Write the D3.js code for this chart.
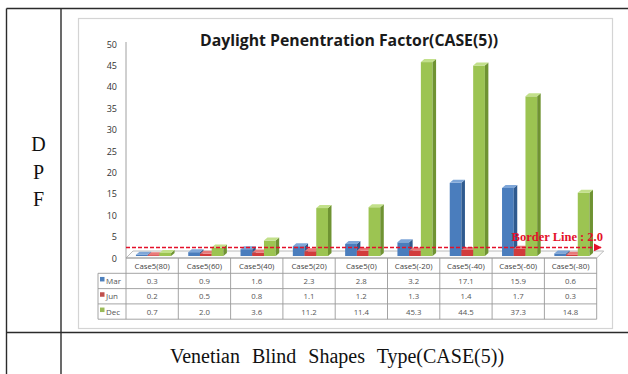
<!DOCTYPE html>
<html>
<head>
<meta charset="utf-8">
<script src="https://cdn.jsdelivr.net/npm/d3@7/dist/d3.min.js"></script>
<style>
  html, body { margin: 0; padding: 0; background: #fff; }
  svg { display: block; }
</style>
</head>
<body>
<svg id="chart" width="628" height="374"></svg>
<script>
// ---- data ----
const categories = ["Case5(80)", "Case5(60)", "Case5(40)", "Case5(20)", "Case5(0)",
                    "Case5(-20)", "Case5(-40)", "Case5(-60)", "Case5(-80)"];
const seriesNames = ["Mar", "Jun", "Dec"];
const marValues = [0.3, 0.9, 1.6, 2.3, 2.8, 3.2, 17.1, 15.9, 0.6];
const junValues = [0.2, 0.5, 0.8, 1.1, 1.2, 1.3, 1.4, 1.7, 0.3];
const decValues = [0.7, 2.0, 3.6, 11.2, 11.4, 45.3, 44.5, 37.3, 14.8];
const yTicks = [0, 5, 10, 15, 20, 25, 30, 35, 40, 45, 50];
const borderValue = 2.0;
const titleText = "Daylight Penentration Factor(CASE(5))";
const borderText = "Border Line : 2.0";
const sideLetters = ["D", "P", "F"];
const footerText = "Venetian Blind Shapes Type(CASE(5))";

const seriesValues = [marValues, junValues, decValues];

// face colours per series: front, side, top
const palette = [
  { front: "#4a7dbd", side: "#2f5a8f", top: "#7ea6d8", key: "#4f81bd" },
  { front: "#d23c3c", side: "#9a2626", top: "#e87a7a", key: "#c0504d" },
  { front: "#9cc452", side: "#6f9332", top: "#c2e08a", key: "#9bbb59" }
];

const svg = d3.select("#chart");

// ---- outer document table ----
const outer = svg.append("g").attr("stroke", "#2b2b2b").attr("stroke-width", 1.4);
outer.append("line").attr("x1", 6.5).attr("x2", 628).attr("y1", 8.5).attr("y2", 8.5);
outer.append("line").attr("x1", 6.5).attr("x2", 6.5).attr("y1", 8.5).attr("y2", 374);
outer.append("line").attr("x1", 61).attr("x2", 61).attr("y1", 8.5).attr("y2", 374);
outer.append("line").attr("x1", 6.5).attr("x2", 628).attr("y1", 332.5).attr("y2", 332.5);

svg.append("g").selectAll("text").data(sideLetters).join("text")
  .attr("x", 38.5)
  .attr("y", (d, i) => 151 + i * 27.5)
  .attr("text-anchor", "middle")
  .attr("font-family", "'Liberation Serif', 'Times New Roman', serif")
  .attr("font-size", 20)
  .attr("fill", "#111")
  .text(d => d);

svg.append("text")
  .attr("x", 337).attr("y", 363)
  .attr("text-anchor", "middle")
  .attr("font-family", "'Liberation Serif', 'Times New Roman', serif")
  .attr("font-size", 20)
  .attr("word-spacing", 7)
  .attr("fill", "#111")
  .text(footerText);

// ---- chart frame ----
svg.append("rect")
  .attr("x", 78.5).attr("y", 18.5).attr("width", 534).attr("height", 310)
  .attr("fill", "#fff").attr("stroke", "#d4d4d4").attr("stroke-width", 1.2);

svg.append("text")
  .attr("x", 349).attr("y", 45.5)
  .attr("text-anchor", "middle")
  .attr("font-family", "'Open Sans', 'Noto Sans', sans-serif")
  .attr("font-weight", "bold")
  .attr("font-size", 15.8)
  .attr("fill", "#1a1a1a")
  .text(titleText);

// ---- scales ----
const x = d3.scaleBand().domain(categories).range([126, 596.7]).padding(0);
const y = d3.scaleLinear().domain([0, 50]).range([256, 42]);
const bw = x.bandwidth();
const barW = bw * 0.224;
const groupOffset = bw * 0.19;
const depthX = 3.5, depthY = 3;   // 3-D extrusion of each column
const floorFront = y(0) + 2;       // front edge of the floor / table top
const floorDX = 7, floorDY = 7;

// ---- floor ----
const floorPts = [
  [x.range()[0], floorFront],
  [x.range()[1], floorFront],
  [x.range()[1] + floorDX, floorFront - floorDY],
  [x.range()[0] + floorDX, floorFront - floorDY]
];
svg.append("polygon")
  .attr("points", floorPts.map(p => p.join(",")).join(" "))
  .attr("fill", "#fbfbfb").attr("stroke", "#a9a9a9").attr("stroke-width", 0.8);

// ---- value axis ----
svg.append("line")
  .attr("x1", 126).attr("x2", 126)
  .attr("y1", y(50)).attr("y2", floorFront)
  .attr("stroke", "#a0a0a0").attr("stroke-width", 1);

const yAxis = d3.axisLeft(y).tickValues(yTicks).tickSize(0).tickPadding(0);
const yAxisG = svg.append("g").attr("transform", "translate(117,2.3)").call(yAxis);
yAxisG.select(".domain").remove();
yAxisG.selectAll("text")
  .attr("font-family", "'Open Sans', 'Noto Sans', sans-serif")
  .attr("font-size", 9)
  .attr("fill", "#333");

// ---- 3-D columns ----
const bars = [];
categories.forEach((c, ci) => {
  seriesValues.forEach((vals, si) => {
    bars.push({ cat: c, si, value: vals[ci] });
  });
});

const barG = svg.append("g");
bars.forEach(b => {
  const x0 = x(b.cat) + groupOffset + b.si * barW;
  const x1 = x0 + barW;
  const yb = y(0);
  const yt = y(b.value);
  const col = palette[b.si];
  const g = barG.append("g");
  g.append("rect")
    .attr("x", x0).attr("y", yt).attr("width", barW).attr("height", yb - yt)
    .attr("fill", col.front);
  g.append("polygon")
    .attr("points", [[x1, yt], [x1 + depthX, yt - depthY], [x1 + depthX, yb - depthY], [x1, yb]]
      .map(p => p.join(",")).join(" "))
    .attr("fill", col.side);
  g.append("polygon")
    .attr("points", [[x0, yt], [x1, yt], [x1 + depthX, yt - depthY], [x0 + depthX, yt - depthY]]
      .map(p => p.join(",")).join(" "))
    .attr("fill", col.top);
});

// ---- border line ----
const defs = svg.append("defs");
defs.append("marker")
  .attr("id", "arrow")
  .attr("viewBox", "0 0 10 10")
  .attr("refX", 9).attr("refY", 5)
  .attr("markerWidth", 5).attr("markerHeight", 5)
  .attr("orient", "auto")
  .append("path").attr("d", "M0,0 L10,5 L0,10 z").attr("fill", "#e4102a");

svg.append("line")
  .attr("x1", 126).attr("x2", 601)
  .attr("y1", y(borderValue)).attr("y2", y(borderValue))
  .attr("stroke", "#e4102a").attr("stroke-width", 1.6)
  .attr("stroke-dasharray", "4,2")
  .attr("marker-end", "url(#arrow)");

svg.append("text")
  .attr("x", 603).attr("y", y(borderValue) - 6)
  .attr("text-anchor", "end")
  .attr("font-family", "'Liberation Serif', 'Times New Roman', serif")
  .attr("font-weight", "bold")
  .attr("font-size", 12.5)
  .attr("fill", "#e4102a")
  .text(borderText);

// ---- data table ----
const rowH = 15.3;
const tableTop = floorFront;
const firstRow = tableTop + rowH;
const legendLeft = 98;
const tableRight = x.range()[1];
const tableBottom = firstRow + rowH * seriesNames.length;
const tbl = svg.append("g").attr("stroke", "#9a9a9a").attr("stroke-width", 0.9);

// vertical lines between categories
const colEdges = categories.map(c => x(c)).concat([tableRight]);
tbl.selectAll("line.v").data(colEdges).join("line")
  .attr("x1", d => d).attr("x2", d => d)
  .attr("y1", tableTop).attr("y2", tableBottom);
// legend column edge
tbl.append("line").attr("x1", legendLeft).attr("x2", legendLeft)
  .attr("y1", firstRow).attr("y2", tableBottom);
// horizontal lines
tbl.append("line").attr("x1", x.range()[0]).attr("x2", tableRight)
  .attr("y1", tableTop).attr("y2", tableTop);
[0, 1, 2, 3].forEach(i => {
  tbl.append("line").attr("x1", legendLeft).attr("x2", tableRight)
    .attr("y1", firstRow + i * rowH).attr("y2", firstRow + i * rowH);
});

const txtFont = "'Open Sans', 'Noto Sans', sans-serif";
svg.append("g").selectAll("text").data(categories).join("text")
  .attr("x", d => x(d) + bw / 2)
  .attr("y", tableTop + rowH / 2 + 3)
  .attr("text-anchor", "middle")
  .attr("font-family", txtFont).attr("font-size", 7.8).attr("fill", "#444")
  .text(d => d);

seriesNames.forEach((name, si) => {
  const cy = firstRow + si * rowH + rowH / 2;
  svg.append("rect")
    .attr("x", legendLeft + 2).attr("y", cy - 4).attr("width", 4.5).attr("height", 4.5)
    .attr("fill", palette[si].key);
  svg.append("text")
    .attr("x", legendLeft + 8).attr("y", cy + 3)
    .attr("font-family", txtFont).attr("font-size", 8).attr("fill", "#555")
    .text(name);
  svg.append("g").selectAll("text").data(seriesValues[si]).join("text")
    .attr("x", (d, i) => x(categories[i]) + bw / 2)
    .attr("y", cy + 3)
    .attr("text-anchor", "middle")
    .attr("font-family", txtFont).attr("font-size", 7.8).attr("fill", "#555")
    .text(d => d.toFixed(1));
});
</script>
</body>
</html>
